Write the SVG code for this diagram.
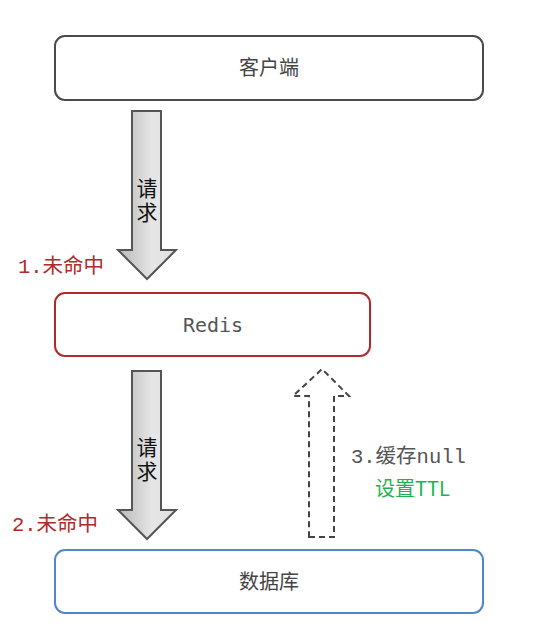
<svg xmlns="http://www.w3.org/2000/svg" width="534" height="641" viewBox="0 0 534 641">
<defs>
<linearGradient id="g" x1="0" y1="0" x2="1" y2="0">
<stop offset="0" stop-color="#b8b8b8"/>
<stop offset="0.6" stop-color="#e6e6e6"/>
<stop offset="1" stop-color="#e0e0e0"/>
</linearGradient>
</defs>
<style>
.box{fill:#fff;stroke-width:2}
.t{font-family:"Microsoft YaHei","Noto Sans CJK SC",sans-serif;font-size:20px;fill:#444;text-anchor:middle}
.fat{fill:url(#g);stroke:#555;stroke-width:2}
.v{font-family:"Microsoft YaHei","Noto Sans CJK SC",sans-serif;font-size:21px;fill:#111;writing-mode:vertical-rl;letter-spacing:3px}
.lbl{font-family:"Liberation Mono","Noto Sans CJK SC",monospace;font-size:20.5px}
</style>
<rect width="534" height="641" fill="#fff"/>
<g id="client">
<rect class="box" x="55" y="36" width="428" height="64" rx="10" stroke="#4a4a4a"/>
<text class="t" x="269" y="75">客户端</text>
</g>
<g id="redis">
<rect class="box" x="55" y="293" width="315" height="63" rx="10" stroke="#b02a2a"/>
<text x="213" y="332" text-anchor="middle" style="font-family:'DejaVu Sans Mono',monospace;font-size:20px;fill:#555">Redis</text>
</g>
<g id="db">
<rect class="box" x="55" y="550" width="428" height="63" rx="10" stroke="#4f86cc"/>
<text class="t" x="269" y="589">数据库</text>
</g>
<g id="connectors">
<polygon class="fat" points="132,111 161,111 161,250 176,250 147,279 118,250 132,250"/>
<polygon class="fat" points="132,371 161,371 161,510 176,510 147,539 118,510 132,510"/>
<polygon points="309,537 334,537 334,396 349,396 322,369 293,396 309,396" fill="none" stroke="#444" stroke-width="2" stroke-dasharray="6,4"/>
</g>
<g id="labels">
<text class="v" x="147" y="178">请求</text>
<text class="v" x="147" y="437">请求</text>
<text class="lbl" x="18" y="273" fill="#b02a2a">1.未命中</text>
<text class="lbl" x="12" y="531" fill="#b02a2a">2.未命中</text>
<text class="lbl" x="351" y="463" fill="#555">3.缓存null</text>
<text x="375" y="496" style="font-family:'Microsoft YaHei','Noto Sans CJK SC',sans-serif;font-size:20px;fill:#1db34f">设置TTL</text>
</g>
</svg>
